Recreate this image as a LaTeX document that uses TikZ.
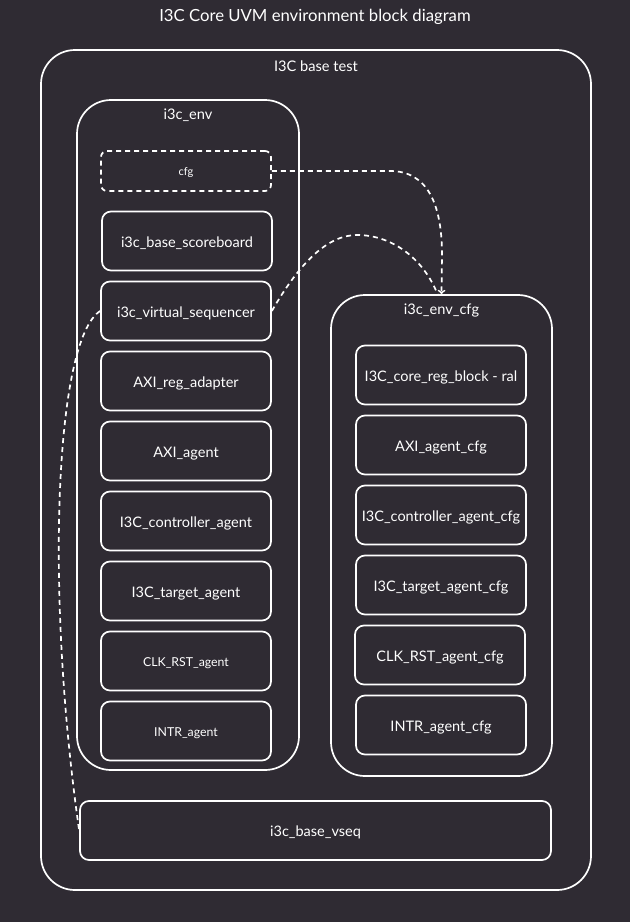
\documentclass[tikz,border=0pt]{standalone}
\usepackage{fontspec}
\setmainfont{Lato}
\usepackage{xcolor}
\usetikzlibrary{arrows,positioning}

\definecolor{bgdark}{RGB}{47,43,51}

\begin{document}
\begin{tikzpicture}[x=1pt,y=-1pt,
  every node/.style={text=white, inner sep=0pt},
  cont/.style={draw=white, line width=1.7pt, rounded corners=34pt},
  blk/.style={draw=white, line width=1.7pt, rounded corners=9pt, minimum width=170pt, minimum height=59pt, text height=12.5pt, text depth=0pt, font=\fontsize{14.5}{16}\selectfont},
  smallblk/.style={blk, text height=11pt, font=\fontsize{12.3}{14}\selectfont},
  lbl/.style={font=\fontsize{14.6}{16}\selectfont},
  link/.style={draw=white, line width=1.7pt, dash pattern=on 5pt off 4pt}]
\fill [bgdark] (0,0) rectangle (630,922);
\node [font=\fontsize{16.7}{19}\selectfont] (title) at (315,17) {I3C Core UVM environment block diagram};
% containers
\node [cont, minimum width=550pt, minimum height=840pt] (test) at (316,470) {};
\node [lbl] (testlbl) at (316,66) {I3C base test};
\node [cont, minimum width=222pt, minimum height=670pt] (env) at (188,435) {};
\node [lbl] (envlbl) at (188,115) {i3c\_env};
\node [cont, minimum width=221pt, minimum height=481pt] (envcfg) at (441.5,535.5) {};
\node [lbl] (envcfglbl) at (441.5,310) {i3c\_env\_cfg};
% i3c_env blocks
\node [smallblk, link, text height=9.5pt, font=\fontsize{11}{13}\selectfont, rounded corners=6pt, minimum height=40pt] (cfg) at (186,171) {cfg};
\node [blk] (scbd) at (187,241) {i3c\_base\_scoreboard};
\node [blk] (seqr) at (186,311) {i3c\_virtual\_sequencer};
\node [blk] (regadp) at (186,381) {AXI\_reg\_adapter};
\node [blk] (axiagt) at (186,451) {AXI\_agent};
\node [blk] (ctrlagt) at (186,521) {I3C\_controller\_agent};
\node [blk] (tgtagt) at (186,591) {I3C\_target\_agent};
\node [smallblk] (clkagt) at (186,661) {CLK\_RST\_agent};
\node [smallblk] (intragt) at (186,731) {INTR\_agent};
% i3c_env_cfg blocks
\node [blk] (ral) at (441,375) {I3C\_core\_reg\_block - ral};
\node [blk] (axicfg) at (441,445) {AXI\_agent\_cfg};
\node [blk] (ctrlcfg) at (441,515) {I3C\_controller\_agent\_cfg};
\node [blk] (tgtcfg) at (441,585) {I3C\_target\_agent\_cfg};
\node [blk] (clkcfg) at (440,655) {CLK\_RST\_agent\_cfg};
\node [blk] (intrcfg) at (441,725) {INTR\_agent\_cfg};
% vseq
\node [blk, minimum width=471pt] (vseq) at (315.5,830.5) {i3c\_base\_vseq};
% dashed links
\draw [link,->] (cfg.east) -- (390,171) .. controls (428,171) and (442,205) .. (442,255) -- (envcfg.north);
\draw [link] (seqr.east) .. controls (300,262) and (328,235) .. (357,235) .. controls (395,235) and (425,262) .. ([xshift=-4pt]envcfg.north);
\draw [link] (seqr.west) .. controls (55,340) and (45,590) .. (vseq.west);
\end{tikzpicture}
\end{document}
